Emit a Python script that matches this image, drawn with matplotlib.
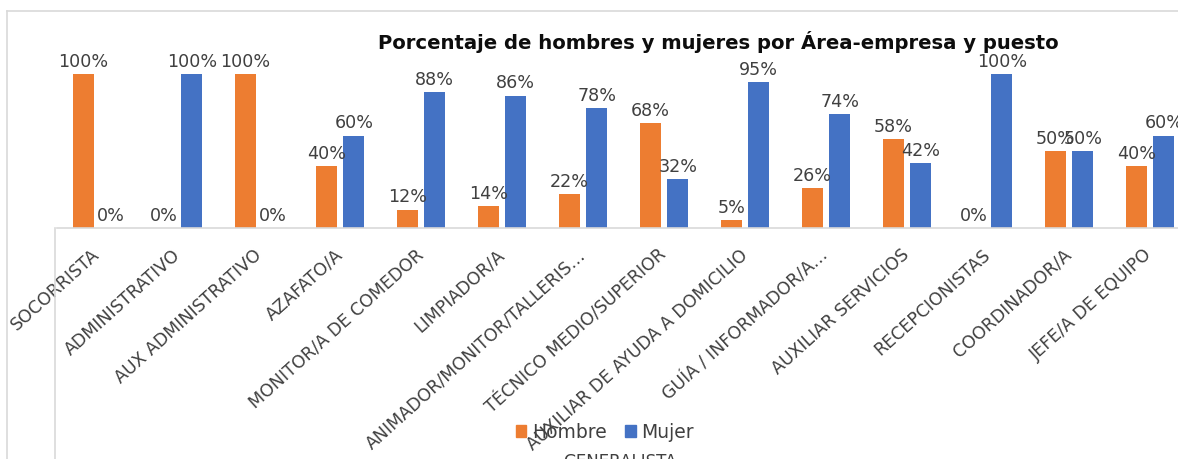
import matplotlib
matplotlib.use("Agg")
import matplotlib.pyplot as plt
from matplotlib.lines import Line2D
from matplotlib.patches import Patch
import numpy as np

categories = ["SOCORRISTA", "ADMINISTRATIVO", "AUX ADMINISTRATIVO", "AZAFATO/A",
              "MONITOR/A DE COMEDOR", "LIMPIADOR/A", "ANIMADOR/MONITOR/TALLERIS…",
              "TÉCNICO MEDIO/SUPERIOR", "AUXILIAR DE AYUDA A DOMICILIO",
              "GUÍA / INFORMADOR/A…", "AUXILIAR SERVICIOS", "RECEPCIONISTAS",
              "COORDINADOR/A", "JEFE/A DE EQUIPO"]
hombre = [100, 0, 100, 40, 12, 14, 22, 68, 5, 26, 58, 0, 50, 40]
mujer = [0, 100, 0, 60, 88, 86, 78, 32, 95, 74, 42, 100, 50, 60]
series_names = ["Hombre", "Mujer"]
title = "Porcentaje de hombres y mujeres por Área-empresa y puesto"
axis_title = "GENERALISTA"

plt.rcParams['font.family'] = ['DejaVu Sans']
W, H = 1178, 460
fig = plt.figure(figsize=(W / 100, H / 100), dpi=100)

c_h = "#ED7D31"
c_m = "#4472C4"
txt = "#404040"
grid = "#D9D9D9"

def fx(px):
    return px / W

def fy(py):
    return 1 - py / H

left_px, right_px = 56.5, 56.5 + 14 * 81
top_px, bot_px = 75, 229
ax = fig.add_axes([fx(left_px), fy(bot_px), (right_px - left_px) / W, (bot_px - top_px) / H])

x = np.arange(len(categories))
bw = 0.26
off = 0.17
b1 = ax.bar(x - off, hombre, bw, color=c_h, label=series_names[0])
b2 = ax.bar(x + off, mujer, bw, color=c_m, label=series_names[1])
ax.set_xlim(-0.5, len(categories) - 0.5)
ax.set_ylim(0, 100)

for bars in (b1, b2):
    labs = ax.bar_label(bars, labels=[f"{v:g}%" for v in bars.datavalues],
                        padding=3, fontsize=12.6, color=txt)
    for t in labs:
        t.set_clip_on(False)

for s in ["top", "left", "right"]:
    ax.spines[s].set_visible(False)
ax.spines["bottom"].set_color(grid)
ax.spines["bottom"].set_linewidth(1.2)
ax.set_yticks([])
ax.set_xticks(x)
ax.set_xticklabels(categories, rotation=42, ha="right", va="center",
                   rotation_mode="anchor", fontsize=12.5, color=txt)
ax.tick_params(axis="x", length=0, pad=17)

# frame lines
fig.add_artist(Line2D([fx(7), fx(7)], [fy(12), 0], color=grid, lw=1.2))
fig.add_artist(Line2D([fx(7), 1], [fy(12), fy(12)], color=grid, lw=1.2))
fig.add_artist(Line2D([fx(55), fx(55)], [fy(229), 0], color=grid, lw=1.2))

fig.text(fx(718), fy(42), title, ha="center", va="center",
         fontsize=14.1, fontweight="bold", color="#0d0d0d")

handles = [Patch(color=c_h), Patch(color=c_m)]
fig.legend(handles, series_names, loc="center", bbox_to_anchor=(fx(605), fy(433)),
           ncol=2, frameon=False, fontsize=13.5, labelcolor=txt,
           handlelength=0.55, handleheight=0.55, handletextpad=0.3, columnspacing=1.0,
           borderpad=0, borderaxespad=0)
fig.text(fx(620), fy(462), axis_title, ha="center", va="center", fontsize=12, color=txt)

fig.savefig("out.png", dpi=100)
